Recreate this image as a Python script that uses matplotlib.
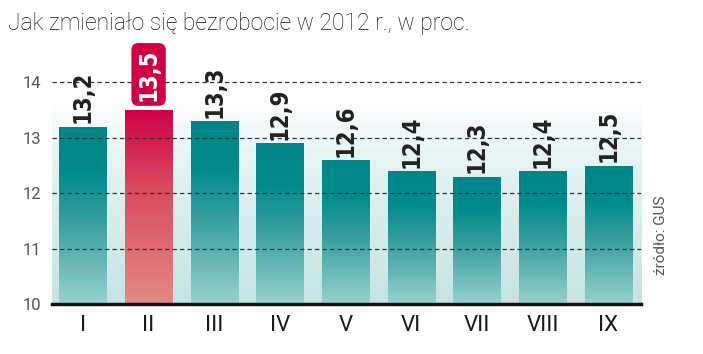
import matplotlib.pyplot as plt
import numpy as np
from matplotlib.colors import LinearSegmentedColormap

months = ["I", "II", "III", "IV", "V", "VI", "VII", "VIII", "IX"]
values = [13.2, 13.5, 13.3, 12.9, 12.6, 12.4, 12.3, 12.4, 12.5]
labels = ["13,2", "13,5", "13,3", "12,9", "12,6", "12,4", "12,3", "12,4", "12,5"]
highlight = 1

teal = LinearSegmentedColormap.from_list("teal", [(0, "#96d2ce"), (0.5, "#2f9c9b"), (0.75, "#008b8c"), (1, "#00868a")])
red = LinearSegmentedColormap.from_list("red", [(0, "#e28a86"), (0.6, "#d94a5e"), (1, "#cf0048")])
bg = LinearSegmentedColormap.from_list("bg", [(0, "#c6e4e2"), (0.6, "#e6f3f3"), (0.85, "#ffffff"), (1, "#ffffff")])

cond = ["DejaVu Sans"]
thin = ["Roboto", "DejaVu Sans"]

fig = plt.figure(figsize=(7.03, 3.54), dpi=100)
ax = fig.add_axes([0.074, 0.141, 0.838, 0.689])
ymin, ymax = 10, 14.4
ax.set_xlim(-0.47, 8.5)
ax.set_ylim(ymin, ymax)

grad = np.linspace(0, 1, 256).reshape(-1, 1)
ax.imshow(grad, cmap=bg, origin="lower", aspect="auto",
          extent=[-0.47, 8.5, ymin, ymax], zorder=0)

bars = ax.bar(range(len(values)), [v - ymin for v in values], bottom=ymin,
              width=0.72, color="none", zorder=1)
for i, b in enumerate(bars):
    x0, w, top = b.get_x(), b.get_width(), values[i]
    im = ax.imshow(grad, cmap=red if i == highlight else teal, origin="lower",
                   aspect="auto", extent=[x0, x0 + w, ymin, top], zorder=1)
    im.set_clip_path(b)

for y in [11, 12, 13, 14]:
    ax.axhline(y, color="#333333", lw=0.9, ls=(0, (3.5, 2.5)), zorder=2)

for i, v in enumerate(values):
    if i == highlight:
        ax.text(i, v + 0.17, labels[i], rotation=90, ha="center", va="bottom",
                fontsize=17, fontweight="bold", color="white", zorder=4,
                family=cond, fontstretch="condensed",
                bbox=dict(boxstyle="round,pad=0.22,rounding_size=0.3",
                          fc="#cf0048", ec="none"))
    else:
        ax.text(i, v + 0.06, labels[i], rotation=90, ha="center", va="bottom",
                fontsize=17, fontweight="bold", color="#222222", zorder=4,
                family=cond, fontstretch="condensed")

ax.set_xticks(range(len(months)))
ax.set_xticklabels(months, fontsize=16, color="#1a1a1a", family=thin)
ax.set_yticks([10, 11, 12, 13, 14])
ax.set_yticklabels(["10", "11", "12", "13", "14"], fontsize=12, color="#555555",
                   family=thin)
ax.tick_params(length=0, pad=8)
for s in ["top", "right", "left"]:
    ax.spines[s].set_visible(False)
ax.spines["bottom"].set_linewidth(2.5)
ax.spines["bottom"].set_color("#111111")
ax.spines["bottom"].set_zorder(5)

fig.text(0.011, 0.935, "Jak zmieniało się bezrobocie w 2012 r., w proc.",
         fontsize=16.5, color="#111111", va="center", family=thin, fontweight="light")
fig.text(0.94, 0.335, "źródło: GUS", rotation=90, fontsize=11,
         color="#555555", ha="center", va="center", family=thin)

fig.savefig("out.png", dpi=100)
